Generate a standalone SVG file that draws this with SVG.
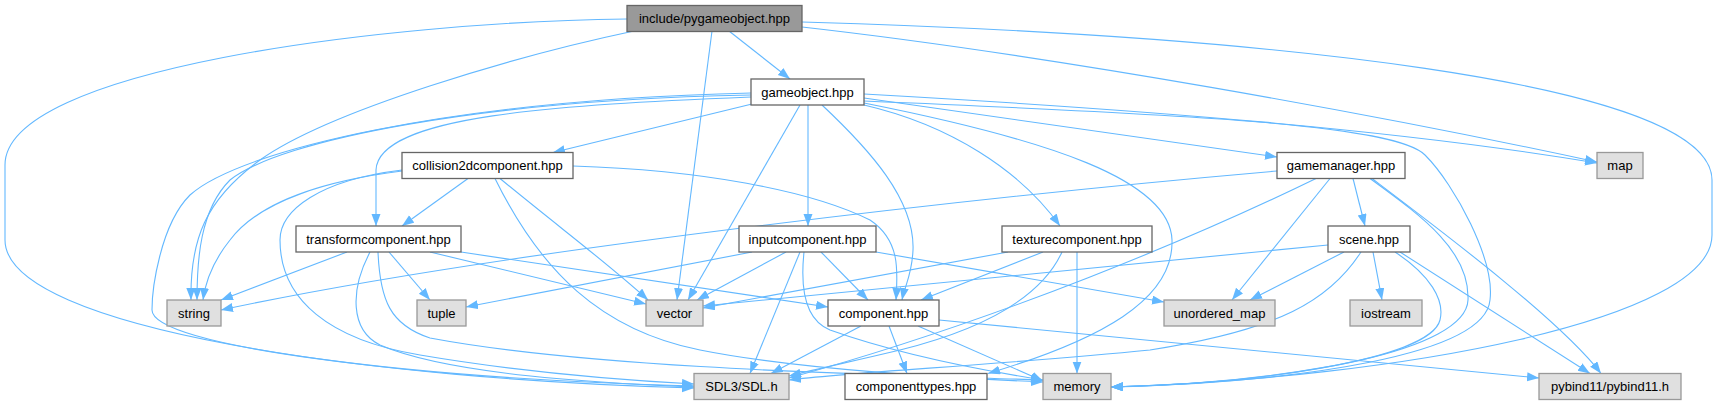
<svg xmlns="http://www.w3.org/2000/svg" width="1717" height="405" viewBox="0 0 1717 405">
<style>
  .e { fill: none; stroke: #63b8ff; stroke-width: 1.1; marker-end: url(#ah); }
  .n rect { stroke-width: 1.3; }
  .w rect { fill: #ffffff; stroke: #666666; }
  .x rect { fill: #e0e0e0; stroke: #999999; }
  .r rect { fill: #999999; stroke: #666666; }
  text { font-family: "Liberation Sans", Helvetica, Arial, sans-serif; font-size: 13px; fill: #000000; text-anchor: middle; }
</style>
<defs>
  <marker id="ah" markerUnits="userSpaceOnUse" markerWidth="13" markerHeight="10" refX="12" refY="4.5" orient="auto">
    <path d="M0,0 L12,4.5 L0,9 z" fill="#63b8ff"/>
  </marker>
</defs>
<rect width="1717" height="405" fill="#ffffff"/>
<g id="edges">
  <!-- pygameobject -->
  <path class="e" d="M729,31 L790,79"/>
  <path class="e" d="M627,19 C380,22 5,70 5,165 L5,240 C5,330 380,380 694,388"/>
  <path class="e" d="M634,31 C520,55 330,110 260,160 C205,200 190,240 191,300"/>
  <path class="e" d="M712,31 L677,300"/>
  <path class="e" d="M802,27 C1050,55 1380,115 1597,162"/>
  <path class="e" d="M802,22 C1250,35 1712,80 1712,180 L1712,235 C1712,320 1400,378 1111,387"/>
  <!-- gameobject -->
  <path class="e" d="M752,104 L553,152.5"/>
  <path class="e" d="M751,97 C560,105 378,115 376,170 L376,226"/>
  <path class="e" d="M751,95 C480,100 280,140 230,180 C200,210 197,260 197,300"/>
  <path class="e" d="M751,93 C450,100 240,150 190,195 C160,225 152,290 152,310 C152,345 400,378 694,386"/>
  <path class="e" d="M800,105 L688,300"/>
  <path class="e" d="M808,105 L808,226"/>
  <path class="e" d="M822,105 C870,150 915,200 913,250 C912,275 905,285 902,300"/>
  <path class="e" d="M864,105 C950,125 1020,170 1060,226"/>
  <path class="e" d="M864,98 L1277,157"/>
  <path class="e" d="M864,94 C1150,110 1400,130 1597,163"/>
  <path class="e" d="M864,101 C1200,115 1395,125 1425,155 C1455,185 1495,260 1490,300 C1485,355 1300,382 1111,387"/>
  <path class="e" d="M864,103 C1050,140 1170,180 1172,240 C1174,300 1100,340 988,373.5"/>
  <!-- collision2dcomponent -->
  <path class="e" d="M468,178.5 L402,226"/>
  <path class="e" d="M402,171 C330,180 260,200 230,240 C210,265 205,285 203,300"/>
  <path class="e" d="M402,170 C320,180 280,210 280,240 C280,300 330,340 420,355 C520,372 620,380 694,384"/>
  <path class="e" d="M500,178.5 C560,228 610,265 648,300"/>
  <path class="e" d="M495,178.5 C540,270 600,330 700,350 C800,370 950,378 1043,382"/>
  <path class="e" d="M573,166 C700,170 810,190 870,220 C900,240 898,270 896,300"/>
  <!-- transformcomponent -->
  <path class="e" d="M347,252 L221,300"/>
  <path class="e" d="M389,252 L430,300"/>
  <path class="e" d="M430,252 L646,304"/>
  <path class="e" d="M370,252 C350,290 350,330 380,345 C450,375 600,383 694,387"/>
  <path class="e" d="M378,252 C380,300 390,325 430,338 C600,370 900,375 1043,380"/>
  <path class="e" d="M461,252 L828,307"/>
  <!-- inputcomponent -->
  <path class="e" d="M752,252 L466,307"/>
  <path class="e" d="M786,252 L697,300"/>
  <path class="e" d="M821,252 L868,300"/>
  <path class="e" d="M800,252 L750,373.5"/>
  <path class="e" d="M804,252 C800,290 805,320 830,330 C900,355 980,370 1043,380"/>
  <path class="e" d="M876,252 L1164,302"/>
  <!-- texturecomponent -->
  <path class="e" d="M1008,252 L703,308"/>
  <path class="e" d="M1043,252 L921,300"/>
  <path class="e" d="M1062,252 C1040,300 980,330 900,350 C850,362 820,368 789,376"/>
  <path class="e" d="M1077,252 L1077,373.5"/>
  <!-- gamemanager -->
  <path class="e" d="M1277,171 C1000,195 500,250 221,310"/>
  <path class="e" d="M1353,178.5 L1365,226"/>
  <path class="e" d="M1330,178.5 L1232,300"/>
  <path class="e" d="M1316,178.5 C1200,235 1000,320 789,378"/>
  <path class="e" d="M1370,178.5 C1420,215 1470,250 1468,300 C1466,350 1300,382 1111,387"/>
  <path class="e" d="M1372,178.5 C1440,230 1560,320 1601,373.5"/>
  <!-- scene -->
  <path class="e" d="M1328,245 L703,306"/>
  <path class="e" d="M1344,252 L1250,300"/>
  <path class="e" d="M1373,252 L1382,300"/>
  <path class="e" d="M1361,252 C1330,300 1280,330 1150,350 C1000,365 850,372 789,380"/>
  <path class="e" d="M1395,252 C1430,275 1445,300 1440,320 C1430,360 1250,384 1111,387"/>
  <path class="e" d="M1400,252 L1590,373.5"/>
  <!-- component -->
  <path class="e" d="M861,326 L771,373.5"/>
  <path class="e" d="M889,326 L907,373.5"/>
  <path class="e" d="M918,326 L1043,381"/>
  <path class="e" d="M939,320 L1539,378"/>
</g>
<g id="node-pygameobject" class="n r"><rect x="627" y="5.5" width="175" height="26"/><text x="714.5" y="23">include/pygameobject.hpp</text></g>
<g id="node-gameobject" class="n w"><rect x="751" y="79" width="113" height="26"/><text x="807.5" y="96.5">gameobject.hpp</text></g>
<g id="node-collision2dcomponent" class="n w"><rect x="402" y="152.5" width="171" height="26"/><text x="487.5" y="170">collision2dcomponent.hpp</text></g>
<g id="node-gamemanager" class="n w"><rect x="1277" y="152.5" width="128" height="26"/><text x="1341" y="170">gamemanager.hpp</text></g>
<g id="node-map" class="n x"><rect x="1597" y="152.5" width="46" height="26"/><text x="1620" y="170">map</text></g>
<g id="node-transformcomponent" class="n w"><rect x="296" y="226" width="165" height="26"/><text x="378.5" y="243.5">transformcomponent.hpp</text></g>
<g id="node-inputcomponent" class="n w"><rect x="739" y="226" width="137" height="26"/><text x="807.5" y="243.5">inputcomponent.hpp</text></g>
<g id="node-texturecomponent" class="n w"><rect x="1002" y="226" width="150" height="26"/><text x="1077" y="243.5">texturecomponent.hpp</text></g>
<g id="node-scene" class="n w"><rect x="1328" y="226" width="82" height="26"/><text x="1369" y="243.5">scene.hpp</text></g>
<g id="node-string" class="n x"><rect x="167" y="300" width="54" height="26"/><text x="194" y="317.5">string</text></g>
<g id="node-tuple" class="n x"><rect x="417" y="300" width="49" height="26"/><text x="441.5" y="317.5">tuple</text></g>
<g id="node-vector" class="n x"><rect x="646" y="300" width="57" height="26"/><text x="674.5" y="317.5">vector</text></g>
<g id="node-component" class="n w"><rect x="828" y="300" width="111" height="26"/><text x="883.5" y="317.5">component.hpp</text></g>
<g id="node-unordered_map" class="n x"><rect x="1164" y="300" width="111" height="26"/><text x="1219.5" y="317.5">unordered_map</text></g>
<g id="node-iostream" class="n x"><rect x="1350" y="300" width="72" height="26"/><text x="1386" y="317.5">iostream</text></g>
<g id="node-sdl" class="n x"><rect x="694" y="373.5" width="95" height="26"/><text x="741.5" y="391">SDL3/SDL.h</text></g>
<g id="node-componenttypes" class="n w"><rect x="845" y="373.5" width="142" height="26"/><text x="916" y="391">componenttypes.hpp</text></g>
<g id="node-memory" class="n x"><rect x="1043" y="373.5" width="68" height="26"/><text x="1077" y="391">memory</text></g>
<g id="node-pybind11" class="n x"><rect x="1539" y="373.5" width="142" height="26"/><text x="1610" y="391">pybind11/pybind11.h</text></g>
</svg>
